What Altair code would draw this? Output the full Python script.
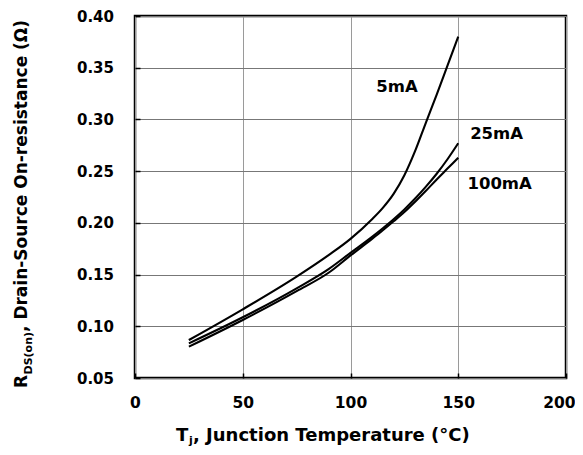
import altair as alt
import pandas as pd

# ---- data ----
temps = [25, 50, 75, 90, 100, 110, 115, 120, 125, 130, 135, 140, 145, 150]
r_5ma = [0.0867, 0.1164, 0.148, 0.169, 0.1845, 0.2035, 0.2145, 0.228, 0.246, 0.2695, 0.297, 0.324, 0.352, 0.380]
r_25ma = [0.0835, 0.1087, 0.1367, 0.1555, 0.171, 0.1865, 0.1948, 0.2035, 0.213, 0.2235, 0.235, 0.2475, 0.2615, 0.277]
r_100ma = [0.0803, 0.1061, 0.134, 0.152, 0.1685, 0.1845, 0.1928, 0.2015, 0.2105, 0.2205, 0.231, 0.242, 0.2525, 0.263]
series_names = ["5mA", "25mA", "100mA"]
label_t = [121.6, 167.8, 169.2]
label_r = [0.331, 0.286, 0.2376]
x_ticks = [0, 50, 100, 150, 200]
y_ticks = [0.05, 0.10, 0.15, 0.20, 0.25, 0.30, 0.35, 0.40]

rows = []
for name, vals in zip(series_names, [r_5ma, r_25ma, r_100ma]):
    for t, r in zip(temps, vals):
        rows.append({"series": name, "T": t, "R": r})
df = pd.DataFrame(rows)
labels_df = pd.DataFrame({"label": series_names, "T": label_t, "R": label_r})
one = pd.DataFrame({"k": [0]})

FONT = "DejaVu Sans"

x_scale = alt.Scale(domain=[0, 200], nice=False)
y_scale = alt.Scale(domain=[0.05, 0.40], nice=False, zero=False)

x_axis = alt.Axis(values=x_ticks, title=None, domain=False, grid=True,
                  gridColor="#9a9a9a", gridWidth=1, ticks=True, tickSize=5,
                  tickColor="black", tickWidth=1.5, offset=-5,
                  labelFont=FONT, labelFontSize=15.5, labelFontWeight="bold",
                  labelColor="black", labelPadding=17.5, labelFlush=False,
                  labelAlign=alt.condition("datum.value == 200", alt.value("right"), alt.value("center")),
                  labelOffset=alt.condition("datum.value == 200", alt.value(9), alt.value(0)))
y_axis = alt.Axis(values=y_ticks, format=".2f", title=None, domain=False, grid=True,
                  gridColor="#777777", gridWidth=1, ticks=True, tickSize=5,
                  tickColor="black", tickWidth=1.5, offset=-5,
                  labelFont=FONT, labelFontSize=15, labelFontWeight="bold",
                  labelColor="black", labelPadding=21.5, labelFlush=False)

lines = alt.Chart(df).mark_line(color="black", strokeWidth=2.1, interpolate="monotone").encode(
    x=alt.X("T:Q", scale=x_scale, axis=x_axis),
    y=alt.Y("R:Q", scale=y_scale, axis=y_axis),
    detail="series:N",
)

labels = alt.Chart(labels_df).mark_text(
    font=FONT, fontSize=16.5, fontWeight="bold", color="black",
    align="center", baseline="middle",
).encode(
    x=alt.X("T:Q", scale=x_scale, axis=x_axis),
    y=alt.Y("R:Q", scale=y_scale, axis=y_axis),
    text="label:N",
)


def txt(s, x, y, size, angle=0):
    props = dict(text=s, font=FONT, fontSize=size, fontWeight="bold", color="black",
                 align="left", baseline="alphabetic")
    if angle:
        props["angle"] = angle
    return alt.Chart(one).mark_text(**props).encode(x=alt.value(x), y=alt.value(y))


# x-axis title: T_j, Junction Temperature (°C)
xt1 = txt("T", 41, 425, 18)
xt2 = txt("j", 54, 427.5, 11)
xt3 = txt(", Junction Temperature (°C)", 58, 425, 18)

# y-axis title: R_DS(on), Drain-Source On-resistance (Ω)
yt1 = txt("R", -108, 372, 17, 270)
yt2 = txt("DS(on)", -103, 358.5, 11, 270)
yt3 = txt(", Drain-Source On-resistance (Ω)", -108, 316, 17, 270)

chart = alt.layer(lines, labels, xt1, xt2, xt3, yt1, yt2, yt3).properties(
    width=431, height=362,
    autosize=alt.AutoSizeParams(type="none"),
    padding={"left": 127, "top": 8, "right": 9, "bottom": 68},
    background="white",
).configure_view(stroke="black", strokeWidth=2.5)

chart.save("out.html", embed_options={"renderer": "svg", "actions": False})
